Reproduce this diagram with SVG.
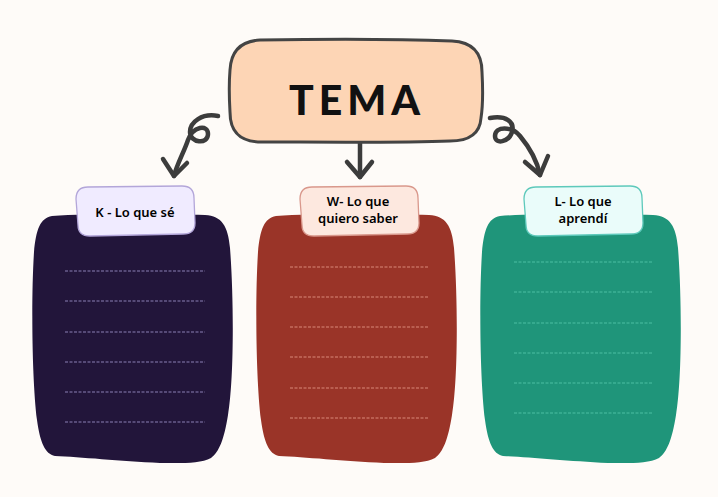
<svg xmlns="http://www.w3.org/2000/svg" width="718" height="497" viewBox="0 0 718 497">
<defs>
<style>
.card{stroke:none}
.dash{fill:none;stroke-width:1;stroke-dasharray:3 1.5}
.lbl{stroke-width:1.3}
.lt{font-family:"Noto Sans","Liberation Sans",sans-serif;font-size:13px;font-weight:600;fill:#000;text-anchor:middle}
.arr{fill:none;stroke:#3c3c3c;stroke-width:4.5;stroke-linecap:round;stroke-linejoin:round}
</style>
<path id="cardShape" d="M52,216 C90,213 170,214 205,215 C222,216 228,226 230,248 C234,300 234,380 228,415 C224,440 219,452 211,458 C200,464 180,463 160,463 C120,461 80,457 55,456 C45,454 40,442 37,420 C32,380 31,300 34,252 C36,230 40,218 52,216 Z"/>
</defs>
<rect width="718" height="497" fill="#fefbf8"/>

<g id="connectors">
<path class="arr" d="M218,116 C202,113 190,122 190,132 C190,143 208,145 208,134 C208,124 193,126 188,140 C184,152 177,164 174,176"/>
<path class="arr" d="M163,159 L174,176 L187,163"/>
<path class="arr" d="M360,142 L360,177"/>
<path class="arr" d="M347,162 L360,177 L372,162"/>
<path class="arr" d="M490,118 C506,115 515,122 512,132 C509,142 495,145 495,136 C495,126 512,126 520,136 C530,148 537,160 540,175"/>
<path class="arr" d="M525,162 L540,175 L548,156"/>
</g>

<g id="tema">
<path d="M260,40 C320,39 400,39 452,41 C472,42 482,52 482,72 C483,90 483,105 481,118 C480,133 470,141 450,141 C400,143 310,142 262,142 C240,142 230,132 230,112 C229,95 229,82 230,70 C231,50 242,41 260,40 Z" fill="#fdd5b5" stroke="#444" stroke-width="3"/>
<text x="357" y="115" font-family="Lato,'Noto Sans',sans-serif" font-weight="900" font-size="41" letter-spacing="5" text-anchor="middle" fill="#111">TEMA</text>
</g>

<g id="card-k">
<use href="#cardShape" fill="#22153a"/>
<g class="dash" stroke="#8a80b4">
<line x1="65" y1="271" x2="205" y2="271"/>
<line x1="65" y1="301" x2="205" y2="301"/>
<line x1="65" y1="332" x2="205" y2="332"/>
<line x1="65" y1="362" x2="205" y2="362"/>
<line x1="65" y1="392" x2="205" y2="392"/>
<line x1="65" y1="422" x2="205" y2="422"/>
</g>
<path class="lbl" d="M88,187 L182,186 C190,186 194,190 194,198 L195,223 C195,231 191,234 183,234 L90,236 C82,236 78,232 78,225 L76,199 C76,191 80,187 88,187 Z" fill="#f0ebff" stroke="#b3a6d9"/>
<text class="lt" x="135" y="217">K - Lo que sé</text>
</g>

<g id="card-w">
<use href="#cardShape" fill="#9a3428" transform="translate(224,0)"/>
<g class="dash" stroke="#d98878">
<line x1="290" y1="267" x2="428" y2="267"/>
<line x1="290" y1="297" x2="428" y2="297"/>
<line x1="290" y1="327" x2="428" y2="327"/>
<line x1="290" y1="357" x2="428" y2="357"/>
<line x1="290" y1="388" x2="428" y2="388"/>
<line x1="290" y1="418" x2="428" y2="418"/>
</g>
<path class="lbl" d="M312,187 L406,186 C414,186 418,190 418,198 L419,223 C419,231 415,234 407,234 L314,236 C306,236 302,232 302,225 L300,199 C300,191 304,187 312,187 Z" fill="#fde8df" stroke="#d9988c"/>
<text class="lt" x="358" y="205.5">W- Lo que</text>
<text class="lt" x="358" y="223">quiero saber</text>
</g>

<g id="card-l">
<use href="#cardShape" fill="#1f957a" transform="translate(448,0)"/>
<g class="dash" stroke="#4dbfa3">
<line x1="514" y1="262" x2="653" y2="262"/>
<line x1="514" y1="292" x2="653" y2="292"/>
<line x1="514" y1="323" x2="653" y2="323"/>
<line x1="514" y1="353" x2="653" y2="353"/>
<line x1="514" y1="383" x2="653" y2="383"/>
<line x1="514" y1="413" x2="653" y2="413"/>
</g>
<path class="lbl" d="M536,187 L630,186 C638,186 642,190 642,198 L643,223 C643,231 639,234 631,234 L538,236 C530,236 526,232 526,225 L524,199 C524,191 528,187 536,187 Z" fill="#eafcfa" stroke="#5ec9bb"/>
<text class="lt" x="583" y="205.5">L- Lo que</text>
<text class="lt" x="583" y="223">aprendí</text>
</g>
</svg>
